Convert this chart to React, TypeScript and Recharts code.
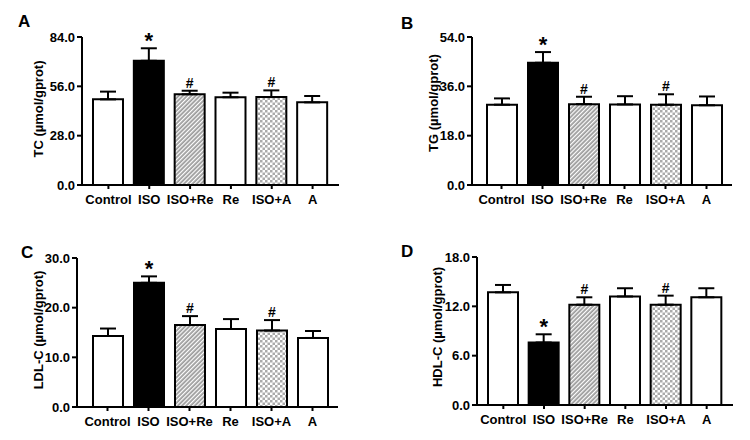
import { BarChart, Bar, Cell, XAxis, YAxis, ErrorBar, LabelList } from 'recharts';

const FONT = '"Liberation Sans", Arial, Helvetica, sans-serif';

const groups = ['Control', 'ISO', 'ISO+Re', 'Re', 'ISO+A', 'A'];
const marks = ['', '*', '#', '', '#', ''];

const tcMean = [48.6, 70.5, 51.5, 49.8, 49.9, 46.9];
const tcErr = [4.4, 7.1, 2.0, 2.6, 3.8, 3.6];
const tcTicks = [0, 28, 56, 84];

const tgMean = [29.3, 44.6, 29.5, 29.4, 29.3, 29.1];
const tgErr = [2.3, 3.9, 2.7, 3.0, 3.8, 3.2];
const tgTicks = [0, 18, 36, 54];

const ldlMean = [14.3, 25.0, 16.5, 15.7, 15.4, 13.9];
const ldlErr = [1.5, 1.3, 1.8, 2.0, 2.1, 1.4];
const ldlTicks = [0, 10, 20, 30];

const hdlMean = [13.7, 7.6, 12.2, 13.2, 12.2, 13.1];
const hdlErr = [0.9, 1.0, 0.9, 1.0, 1.1, 1.1];
const hdlTicks = [0, 6, 12, 18];

// bar fills per group: open, solid, hatched, open, checked, open
const fills = ['#fff', '#000', 'url(#hatch)', '#fff', 'url(#checker)', '#fff'];

const tickStyle = { fill: '#000', fontSize: 13, fontWeight: 700, fontFamily: FONT };
const axisStroke = { stroke: '#000', strokeWidth: 2 };

interface PanelProps {
  left: number;
  top: number;
  mean: number[];
  err: number[];
  ticks: number[];
  title: string;
  titleX: number;
  titleY: number;
  axisWidth: number;
  margin: { top: number; right: number; bottom: number };
  pad: { left: number; right: number };
}

function Panel({ left, top, mean, err, ticks, title, titleX, titleY, axisWidth, margin, pad }: PanelProps) {
  const rows = groups.map((name, i) => ({ name, mean: mean[i], err: [0, err[i]], mark: marks[i] }));

  // star / hash sits just above the whisker cap
  const renderMark = (props: any) => {
    const { x, y, width, height, index } = props;
    const mark = marks[index];
    if (!mark) return null;
    const capY = y - (err[index] * height) / mean[index];
    const star = mark === '*';
    return (
      <text
        x={x + width / 2}
        y={star ? capY + 0 : capY - 3}
        textAnchor="middle"
        fontSize={star ? 22 : 14}
        fontWeight={700}
        fontFamily={FONT}
        fill="#000"
      >
        {mark}
      </text>
    );
  };

  return (
    <div style={{ position: 'absolute', left, top }}>
      <BarChart width={375} height={220} data={rows} margin={{ left: 0, ...margin }}>
        <XAxis
          dataKey="name"
          interval={0}
          padding={pad}
          height={30}
          tickSize={4}
          tickMargin={6}
          tick={tickStyle}
          axisLine={axisStroke}
          tickLine={axisStroke}
        />
        <YAxis
          type="number"
          domain={[ticks[0], ticks[ticks.length - 1]]}
          ticks={ticks}
          width={axisWidth}
          tickFormatter={(v: number) => v.toFixed(1)}
          tickSize={5}
          tickMargin={2}
          tick={tickStyle}
          axisLine={axisStroke}
          tickLine={axisStroke}
          label={{
            content: () => (
              <text
                transform={`translate(${titleX},${titleY}) rotate(-90)`}
                textAnchor="middle"
                dominantBaseline="central"
                fontSize={13}
                fontWeight={700}
                fontFamily={FONT}
                fill="#000"
              >
                {title}
              </text>
            ),
          }}
        />
        <Bar dataKey="mean" barSize={30} stroke="#000" strokeWidth={2} isAnimationActive={false}>
          {rows.map((_, i) => (
            <Cell key={i} fill={fills[i]} />
          ))}
          <ErrorBar dataKey="err" direction="y" width={8} stroke="#000" strokeWidth={2} isAnimationActive={false} />
          <LabelList dataKey="mark" content={renderMark} />
        </Bar>
      </BarChart>
    </div>
  );
}

const letterStyle = { fontSize: 17, fontWeight: 700, fontFamily: FONT, fill: '#000' };

export default function App() {
  return (
    <div style={{ position: 'absolute', left: 0, top: 0, width: 750, height: 440, background: '#fff' }}>
      <svg width={0} height={0} style={{ position: 'absolute' }}>
        <defs>
          <pattern id="hatch" width={3} height={3} patternUnits="userSpaceOnUse" patternTransform="rotate(45)">
            <rect width={3} height={3} fill="#9c9c9c" />
            <rect width={1.2} height={3} fill="#fff" />
          </pattern>
          <pattern id="checker" width={5} height={5} patternUnits="userSpaceOnUse">
            <rect width={5} height={5} fill="#fff" />
            <rect width={2.5} height={2.5} fill="#aaa" />
            <rect x={2.5} y={2.5} width={2.5} height={2.5} fill="#aaa" />
          </pattern>
        </defs>
      </svg>

      <Panel
        left={0}
        top={0}
        mean={tcMean}
        err={tcErr}
        ticks={tcTicks}
        title="TC (µmol/gprot)"
        titleX={38}
        titleY={109}
        axisWidth={82}
        margin={{ top: 37, right: 36, bottom: 5 }}
        pad={{ left: 6, right: 6 }}
      />
      <Panel
        left={375}
        top={0}
        mean={tgMean}
        err={tgErr}
        ticks={tgTicks}
        title="TG (µmol/gprot)"
        titleX={58}
        titleY={103}
        axisWidth={97}
        margin={{ top: 37, right: 18, bottom: 5 }}
        pad={{ left: 9, right: 5 }}
      />
      <Panel
        left={0}
        top={220}
        mean={ldlMean}
        err={ldlErr}
        ticks={ldlTicks}
        title="LDL-C (µmol/gprot)"
        titleX={38}
        titleY={110}
        axisWidth={77}
        margin={{ top: 38, right: 37, bottom: 3 }}
        pad={{ left: 10, right: 5 }}
      />
      <Panel
        left={375}
        top={220}
        mean={hdlMean}
        err={hdlErr}
        ticks={hdlTicks}
        title="HDL-C (µmol/gprot)"
        titleX={62}
        titleY={107}
        axisWidth={102}
        margin={{ top: 37, right: 17, bottom: 5 }}
        pad={{ left: 6, right: 6 }}
      />

      <svg width={750} height={440} style={{ position: 'absolute', left: 0, top: 0, pointerEvents: 'none' }}>
        <text x={18} y={27} {...letterStyle}>A</text>
        <text x={401} y={29} {...letterStyle}>B</text>
        <text x={21} y={258} {...letterStyle}>C</text>
        <text x={401} y={257} {...letterStyle}>D</text>
      </svg>
    </div>
  );
}
